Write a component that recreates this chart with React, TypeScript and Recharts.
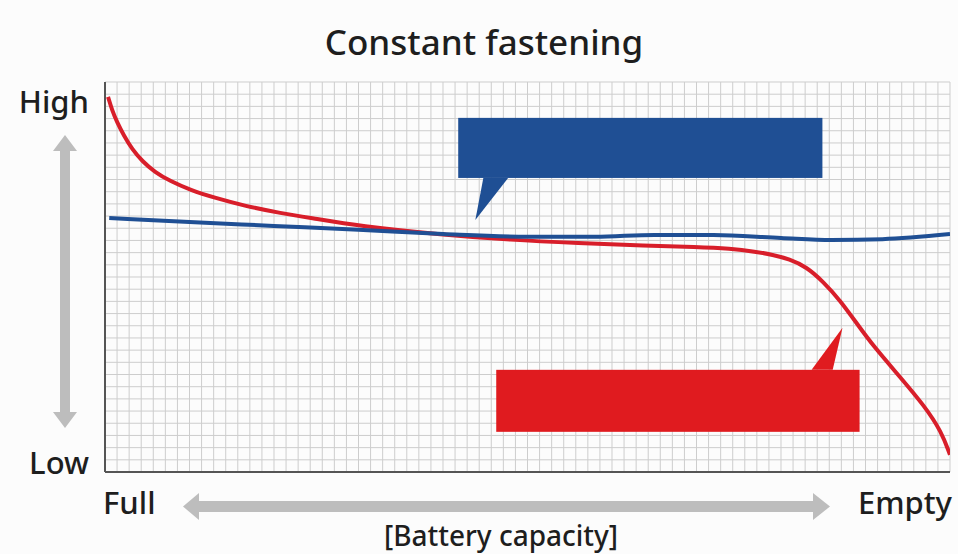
import { LineChart, Line, XAxis, YAxis, CartesianGrid, ReferenceArea } from "recharts"

// capacity position (0 = full, 100 = empty) and relative level (0 = low, 100 = high)
const redX = [0.36, 0.83, 1.42, 2.25, 3.2, 4.4, 5.9, 7.7, 10.1, 13, 16.6, 20.7, 25, 30, 40, 48, 56, 64, 70, 74, 77, 79, 81, 83, 85, 87, 89, 91, 94, 97, 99, 100]
const redY = [96.2, 92.8, 89.7, 86.2, 82.8, 79.7, 76.9, 74.6, 72.3, 70.3, 68.2, 66.4, 64.9, 63.1, 60.8, 59.5, 58.7, 58.0, 57.7, 57.3, 56.5, 55.7, 54.6, 52.6, 48.8, 44.0, 38.0, 32.1, 24.6, 16.9, 10.3, 4.4]

const blueX = [0.5, 10, 20, 30, 40, 50, 58, 65, 72, 80, 86, 92, 100]
const blueY = [65.1, 64.1, 63.1, 62.1, 61.0, 60.3, 60.3, 60.8, 60.8, 60.0, 59.5, 59.7, 61.0]

const redData = redX.map((x, i) => ({ x, v: redY[i] }))
const blueData = blueX.map((x, i) => ({ x, v: blueY[i] }))

// grid cells
const COLS = 70
const ROWS = 32

const BLUE = "#1f4f94"
const RED = "#d81e2a"
const FONT = "'Noto Sans', 'Open Sans', sans-serif"

// callout boxes: x1,x2,y1,y2 in chart units, tail as fractions of box
const blueBox = { x1: 41.8, x2: 84.9, y1: 75.4, y2: 90.8 }
const redBox = { x1: 46.3, x2: 89.3, y1: 10.3, y2: 26.2 }

function callout(fill: string, side: "bottom" | "top", b0: number, b1: number, tip: number, dy: number) {
  return (p: any) => {
    const { x, y, width, height } = p
    const by = side === "bottom" ? y + height : y
    const ty = side === "bottom" ? by + dy * height : by - dy * height
    const tail = `M${x + b0 * width},${by} L${x + tip * width},${ty} L${x + b1 * width},${by} Z`
    return (
      <g>
        <rect x={x} y={y} width={width} height={height} fill={fill} />
        <path d={tail} fill={fill} />
      </g>
    )
  }
}

const vGrid = ({ offset }: any) =>
  Array.from({ length: COLS + 1 }, (_, i) => offset.left + (i * offset.width) / COLS)
const hGrid = ({ offset }: any) =>
  Array.from({ length: ROWS + 1 }, (_, i) => offset.top + (i * offset.height) / ROWS)

export default function App() {
  return (
    <div style={{ position: "absolute", left: 0, top: 0, width: 958, height: 554, background: "#fcfcfc" }}>
      <LineChart width={958} height={554} margin={{ top: 82, right: 8, bottom: 81, left: 104 }}>
        <CartesianGrid stroke="#cdcdcd" strokeWidth={1}
          verticalCoordinatesGenerator={vGrid} horizontalCoordinatesGenerator={hGrid} />
        <XAxis type="number" dataKey="x" domain={[0, 100]} tick={false} tickLine={false}
          axisLine={{ stroke: "#555", strokeWidth: 2 }} height={1} allowDataOverflow />
        <YAxis type="number" dataKey="v" domain={[0, 100]} tick={false} tickLine={false}
          axisLine={{ stroke: "#555", strokeWidth: 2 }} width={1} allowDataOverflow />
        <ReferenceArea {...blueBox} shape={callout(BLUE, "bottom", 0.069, 0.137, 0.047, 0.7)} />
        <ReferenceArea {...redBox} shape={callout("#e01b1f", "top", 0.868, 0.926, 0.953, 0.68)} />
        <Line data={redData} dataKey="v" type="basis" stroke={RED} strokeWidth={4} dot={false} isAnimationActive={false} />
        <Line data={blueData} dataKey="v" type="monotone" stroke={BLUE} strokeWidth={4} dot={false} isAnimationActive={false} />
      </LineChart>
      <svg width={958} height={554} style={{ position: "absolute", left: 0, top: 0, pointerEvents: "none" }}>
        <g fontFamily={FONT} fill="#1e1e1e" fontWeight={500}>
          <text x={484} y={55} textAnchor="middle" fontSize={35}>Constant fastening</text>
          <text x={89} y={113} textAnchor="end" fontSize={31}>High</text>
          <text x={89} y={474} textAnchor="end" fontSize={31}>Low</text>
          <text x={103} y={514} fontSize={31}>Full</text>
          <text x={952} y={514} textAnchor="end" fontSize={31}>Empty</text>
          <text x={501} y={546} textAnchor="middle" fontSize={28}>[Battery capacity]</text>
        </g>
        <g fill="#bdbdbd">
          <rect x={60} y={150} width={10} height={264} />
          <path d="M53,151 L65,135 L77,151 Z" />
          <path d="M53,412 L65,428 L77,412 Z" />
          <rect x={198} y={501} width={616} height={11} />
          <path d="M199,493 L183,506.5 L199,520 Z" />
          <path d="M813,493 L830,506.5 L813,520 Z" />
        </g>
      </svg>
    </div>
  )
}
